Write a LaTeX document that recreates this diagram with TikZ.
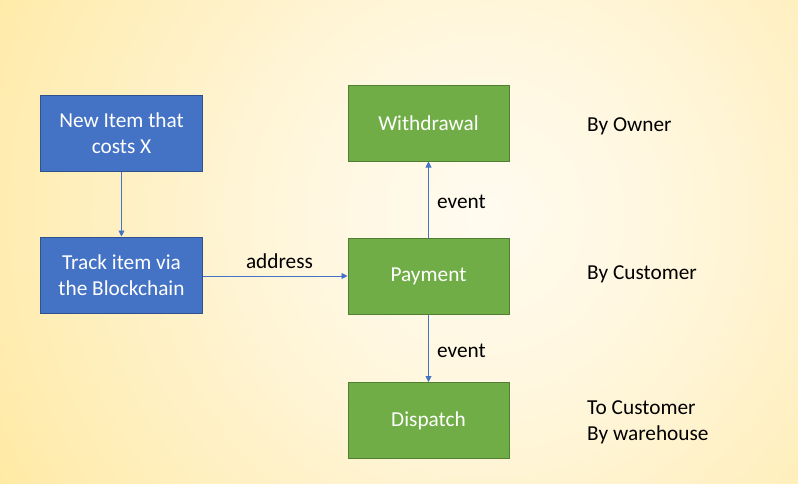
\documentclass[tikz,border=0pt]{standalone}
\usepackage{fontspec}
\setmainfont{Carlito}
\usetikzlibrary{arrows.meta}
\definecolor{bluefill}{HTML}{4472C4}
\definecolor{blueedge}{HTML}{2F528F}
\definecolor{greenfill}{HTML}{70AD47}
\definecolor{greenedge}{HTML}{507E32}
\definecolor{arrowcol}{HTML}{4472C4}
\definecolor{bgA}{HTML}{FFFBF0}
\definecolor{bgB}{HTML}{FFF6DC}
\definecolor{bgC}{HTML}{FFEEB8}
\definecolor{bgD}{HTML}{FFE696}
\definecolor{bgE}{HTML}{FFE186}
\definecolor{bgF}{HTML}{FFDA70}
\definecolor{bgG}{HTML}{FFD250}
\definecolor{bgH}{HTML}{FFCE46}
\pgfdeclareradialshading{bgshade}{\pgfpoint{0bp}{0bp}}{color(0bp)=(bgA); color(8.3bp)=(bgB); color(18.3bp)=(bgC); color(26.7bp)=(bgD); color(33.3bp)=(bgE); color(37.5bp)=(bgF); color(40.8bp)=(bgG); color(46.7bp)=(bgH); color(50bp)=(bgH)}
\tikzset{
  bluebox/.style={draw=blueedge, fill=bluefill, line width=1pt, minimum width=162pt, minimum height=76pt, inner sep=0pt, text=white, align=center, font=\fontsize{21.3}{26}\selectfont},
  greenbox/.style={draw=greenedge, fill=greenfill, line width=1pt, minimum width=161pt, minimum height=76pt, inner sep=0pt, text=white, align=center, font=\fontsize{21.3}{26}\selectfont},
  lbl/.style={inner sep=0pt, text=black, font=\fontsize{21.3}{26}\selectfont},
  sidelbl/.style={inner sep=0pt, text=black, anchor=west, align=left, font=\fontsize{21.3}{26}\selectfont},
  conn/.style={draw=arrowcol, line width=0.9pt, -{Triangle[length=6pt,width=6pt]}}
}
\begin{document}
\begin{tikzpicture}[x=1pt,y=-1pt]
\useasboundingbox (0,0) rectangle (798,483);
\begin{scope}
\clip (0,0) rectangle (798,483);
\shade[shading=bgshade] (485,215) circle (600);
\end{scope}
\node[bluebox] (item) at (121.5,133) {New Item that\\costs X};
\node[bluebox] (track) at (121.5,275) {Track item via\\the Blockchain};
\node[greenbox] (withdraw) at (428.5,123) {Withdrawal};
\node[greenbox] (pay) at (428.5,276) {Payment};
\node[greenbox] (disp) at (428.5,420.5) {Dispatch};
\draw[conn] (item) -- (track);
\draw[conn] (track.east |- pay.west) -- (pay.west);
\draw[conn] (pay) -- (withdraw);
\draw[conn] (pay) -- (disp);
\node[lbl] (addr) at (279.5,261.5) {address};
\node[lbl] (ev1) at (461.5,201.5) {event};
\node[lbl] (ev2) at (461.5,350.5) {event};
\node[sidelbl] (owner) at (587,126.5) {By Owner};
\node[sidelbl] (cust) at (587,274.5) {By Customer};
\node[sidelbl] (wh) at (587,422) {To Customer\\By warehouse};
\end{tikzpicture}
\end{document}
